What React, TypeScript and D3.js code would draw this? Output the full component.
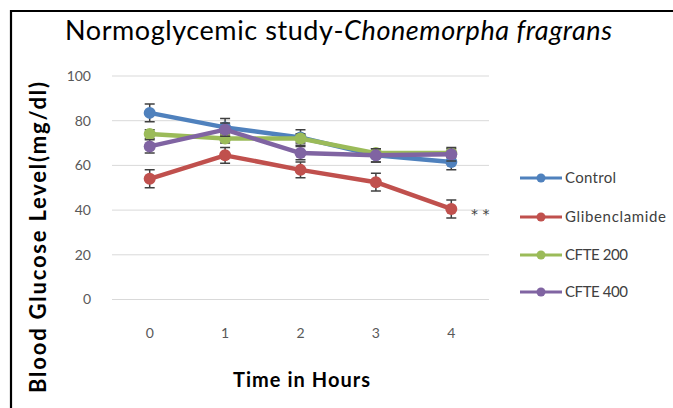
import * as d3 from "d3";
import { useEffect, useRef } from "react";

// time points (hours) and y ticks
const hours = ["0", "1", "2", "3", "4"];
const yTicks = [0, 20, 40, 60, 80, 100];

// mean blood glucose (mg/dl)
const control = [83.5, 77, 72.5, 64.5, 61.5];
const glibenclamide = [54, 64.5, 58, 52.5, 40.5];
const cfte200 = [74, 72, 72, 65.5, 65.5];
const cfte400 = [68.5, 76, 65.5, 64.5, 65];

// error bars (+/-)
const controlErr = [4, 4, 3.5, 3, 3.5];
const glibenclamideErr = [4, 3.5, 3.5, 4, 4];
const cfte200Err = [2, 2, 2, 2, 2];
const cfte400Err = [3, 3, 3, 3, 3];

const seriesNames = ["Control", "Glibenclamide", "CFTE 200", "CFTE 400"];
const seriesColors = ["#4F81BD", "#C0504D", "#9BBB59", "#8064A2"];

const W = 673;
const H = 408;

const App = () => {
  const chartRef = useRef<SVGSVGElement | null>(null);

  useEffect(() => {
    const svg = d3.select(chartRef.current);
    svg.selectAll("*").remove();

    const values = [control, glibenclamide, cfte200, cfte400];
    const errs = [controlErr, glibenclamideErr, cfte200Err, cfte400Err];

    const scaleX = d3.scaleBand().domain(hours).range([112, 489]);
    const scaleY = d3.scaleLinear().domain([0, 100]).range([299.5, 76]);
    const cx = (h: string) => (scaleX(h) as number) + scaleX.bandwidth() / 2;

    svg.append("rect").attr("width", W).attr("height", H).attr("fill", "#fff");

    // рамка: видны только верх и левый край
    svg.append("path")
      .attr("d", `M11,${H} L11,11 L${W},11`)
      .attr("fill", "none")
      .attr("stroke", "#000")
      .attr("stroke-width", 2.2);

    // title
    const title = svg.append("text")
      .attr("x", 65)
      .attr("y", 40)
      .attr("textLength", 547)
      .attr("lengthAdjust", "spacing")
      .style("font-family", "Lato, 'Open Sans', sans-serif")
      .style("font-size", "27px")
      .attr("fill", "#000");
    title.append("tspan").text("Normoglycemic study-");
    title.append("tspan").style("font-style", "italic").text("Chonemorpha fragrans");

    // grid
    svg.append("g")
      .selectAll("line")
      .data(yTicks)
      .enter()
      .append("line")
      .attr("x1", 112)
      .attr("x2", 489)
      .attr("y1", d => scaleY(d))
      .attr("y2", d => scaleY(d))
      .attr("stroke", "#D9D9D9")
      .attr("stroke-width", 1);

    // y tick labels
    svg.append("g")
      .selectAll("text")
      .data(yTicks)
      .enter()
      .append("text")
      .attr("x", 91)
      .attr("y", d => scaleY(d))
      .attr("dy", "0.35em")
      .attr("text-anchor", "end")
      .style("font-family", "Lato, sans-serif")
      .style("font-size", "14px")
      .attr("fill", "#595959")
      .text(d => d);

    // x tick labels
    svg.append("g")
      .selectAll("text")
      .data(hours)
      .enter()
      .append("text")
      .attr("x", d => cx(d))
      .attr("y", 333)
      .attr("dy", "0.35em")
      .attr("text-anchor", "middle")
      .style("font-family", "Lato, sans-serif")
      .style("font-size", "14px")
      .attr("fill", "#595959")
      .text(d => d);

    // axis titles
    svg.append("text")
      .attr("x", 233)
      .attr("y", 380)
      .attr("dy", "0.35em")
      .attr("textLength", 137)
      .attr("lengthAdjust", "spacing")
      .style("font-family", "Lato, sans-serif")
      .style("font-size", "20px")
      .style("font-weight", "bold")
      .text("Time in Hours");

    svg.append("text")
      .attr("transform", "translate(38,393) rotate(-90)")
      .attr("dy", "0.35em")
      .attr("textLength", 311)
      .attr("lengthAdjust", "spacing")
      .style("font-family", "Lato, sans-serif")
      .style("font-size", "22px")
      .style("font-weight", "bold")
      .text("Blood Glucose Level(mg/dl)");

    const line = d3.line<number>()
      .x((d, i) => cx(hours[i]))
      .y(d => scaleY(d));

    values.forEach((vals, s) => {
      const g = svg.append("g");
      // error bars
      g.selectAll(".err")
        .data(vals)
        .enter()
        .append("path")
        .attr("d", (d, i) => {
          const x = cx(hours[i]);
          const y1 = scaleY(d + errs[s][i]);
          const y2 = scaleY(d - errs[s][i]);
          return `M${x - 5},${y1}H${x + 5}M${x},${y1}V${y2}M${x - 5},${y2}H${x + 5}`;
        })
        .attr("fill", "none")
        .attr("stroke", "#404040")
        .attr("stroke-width", 1.5);

      g.append("path")
        .datum(vals)
        .attr("d", line)
        .attr("fill", "none")
        .attr("stroke", seriesColors[s])
        .attr("stroke-width", 4.5)
        .attr("stroke-linejoin", "round");

      g.selectAll("circle")
        .data(vals)
        .enter()
        .append("circle")
        .attr("cx", (d, i) => cx(hours[i]))
        .attr("cy", d => scaleY(d))
        .attr("r", 6)
        .attr("fill", seriesColors[s]);
    });

    // significance mark
    svg.append("text")
      .attr("x", 471)
      .attr("y", scaleY(glibenclamide[4]))
      .attr("dy", "0.75em")
      .style("font-family", "'DejaVu Sans', sans-serif")
      .style("font-size", "14px")
      .attr("fill", "#404040")
      .text("* *");

    // legend
    const legendY = [178, 217, 255, 292];
    const legendTextW = [51, 101, 63, 63];
    const legend = svg.append("g")
      .selectAll("g")
      .data(seriesNames)
      .enter()
      .append("g")
      .attr("transform", (d, i) => `translate(520, ${legendY[i]})`);
    legend.append("line")
      .attr("x1", 0)
      .attr("x2", 42)
      .attr("stroke", (d, i) => seriesColors[i])
      .attr("stroke-width", 3);
    legend.append("circle")
      .attr("cx", 21)
      .attr("r", 4.5)
      .attr("fill", (d, i) => seriesColors[i]);
    legend.append("text")
      .attr("x", 45)
      .attr("dy", "0.35em")
      .attr("textLength", (d, i) => legendTextW[i])
      .attr("lengthAdjust", "spacing")
      .style("font-family", "Lato, sans-serif")
      .style("font-size", "15px")
      .attr("fill", "#404040")
      .text(d => d);
  }, []);

  return (
    <svg
      ref={chartRef}
      width={W}
      height={H}
      style={{ position: "absolute", left: 0, top: 0 }}
    ></svg>
  );
};

export default App;
